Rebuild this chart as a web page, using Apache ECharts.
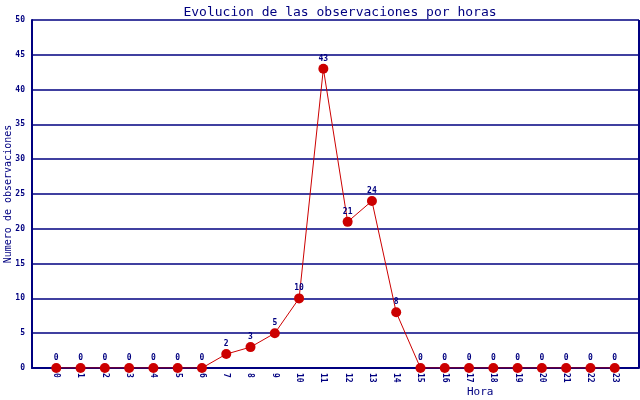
<!DOCTYPE html>
<html><head><meta charset="utf-8">
<script src="https://cdn.jsdelivr.net/npm/echarts@6/dist/echarts.min.js"></script>
<style>html,body{margin:0;padding:0;background:#fff}#c{width:640px;height:400px}</style>
</head><body><div id="c"></div>
<script>
const hours = ['0','1','2','3','4','5','6','7','8','9','10','11','12','13','14','15','16','17','18','19','20','21','22','23'];
const observaciones = [0,0,0,0,0,0,0,2,3,5,10,43,21,24,8,0,0,0,0,0,0,0,0,0];
const yTicks = [0,5,10,15,20,25,30,35,40,45,50];

const cats = [''].concat(hours, ['']);
const vals = [null].concat(observaciones, [null]);
const NAVY = '#000080';
const FONT = '"DejaVu Sans Mono", monospace';
const chart = echarts.init(document.getElementById('c'));
chart.setOption({
  animation: false,
  backgroundColor: '#fff',
  title: {
    text: 'Evolucion de las observaciones por horas',
    left: 335, top: 1, textAlign: 'center',
    textStyle: {color: NAVY, fontFamily: FONT, fontSize: 13, fontWeight: 'normal'}
  },
  graphic: [
    {type: 'text', left: 467, top: 387, style: {text: 'Hora', fill: NAVY, font: '11px ' + FONT}},
    {type: 'line', shape: {x1: 639, y1: 20, x2: 639, y2: 368}, style: {stroke: NAVY, lineWidth: 2}}
  ],
  grid: {left: 32, right: 1, top: 20, bottom: 32, containLabel: false, outerBoundsMode: 'none'},
  xAxis: {
    type: 'category', data: cats, boundaryGap: false,
    axisLine: {lineStyle: {color: NAVY, width: 2}},
    axisTick: {show: false},
    axisLabel: {rotate: -90, color: NAVY, fontFamily: FONT, fontSize: 8, fontWeight: 'bold', margin: 5, interval: 0},
    splitLine: {show: false}
  },
  yAxis: {
    type: 'value', min: yTicks[0], max: yTicks[yTicks.length - 1], interval: 5,
    name: 'Numero de observaciones', nameLocation: 'middle', nameGap: 19, nameMoveOverlap: false,
    nameTextStyle: {color: NAVY, fontFamily: FONT, fontSize: 10},
    axisLine: {show: true, lineStyle: {color: NAVY, width: 2}},
    axisTick: {show: false},
    axisLabel: {color: NAVY, fontFamily: FONT, fontSize: 8, fontWeight: 'bold', margin: 7},
    splitLine: {lineStyle: {color: NAVY, width: 1.5}}
  },
  series: [{
    type: 'line', data: vals,
    lineStyle: {color: '#cc0000', width: 1},
    itemStyle: {color: '#cc0000'},
    symbol: 'circle', symbolSize: 10,
    label: {show: true, position: 'top', distance: 1, color: NAVY, fontFamily: FONT, fontSize: 8, fontWeight: 'bold'}
  }]
});
</script></body></html>
